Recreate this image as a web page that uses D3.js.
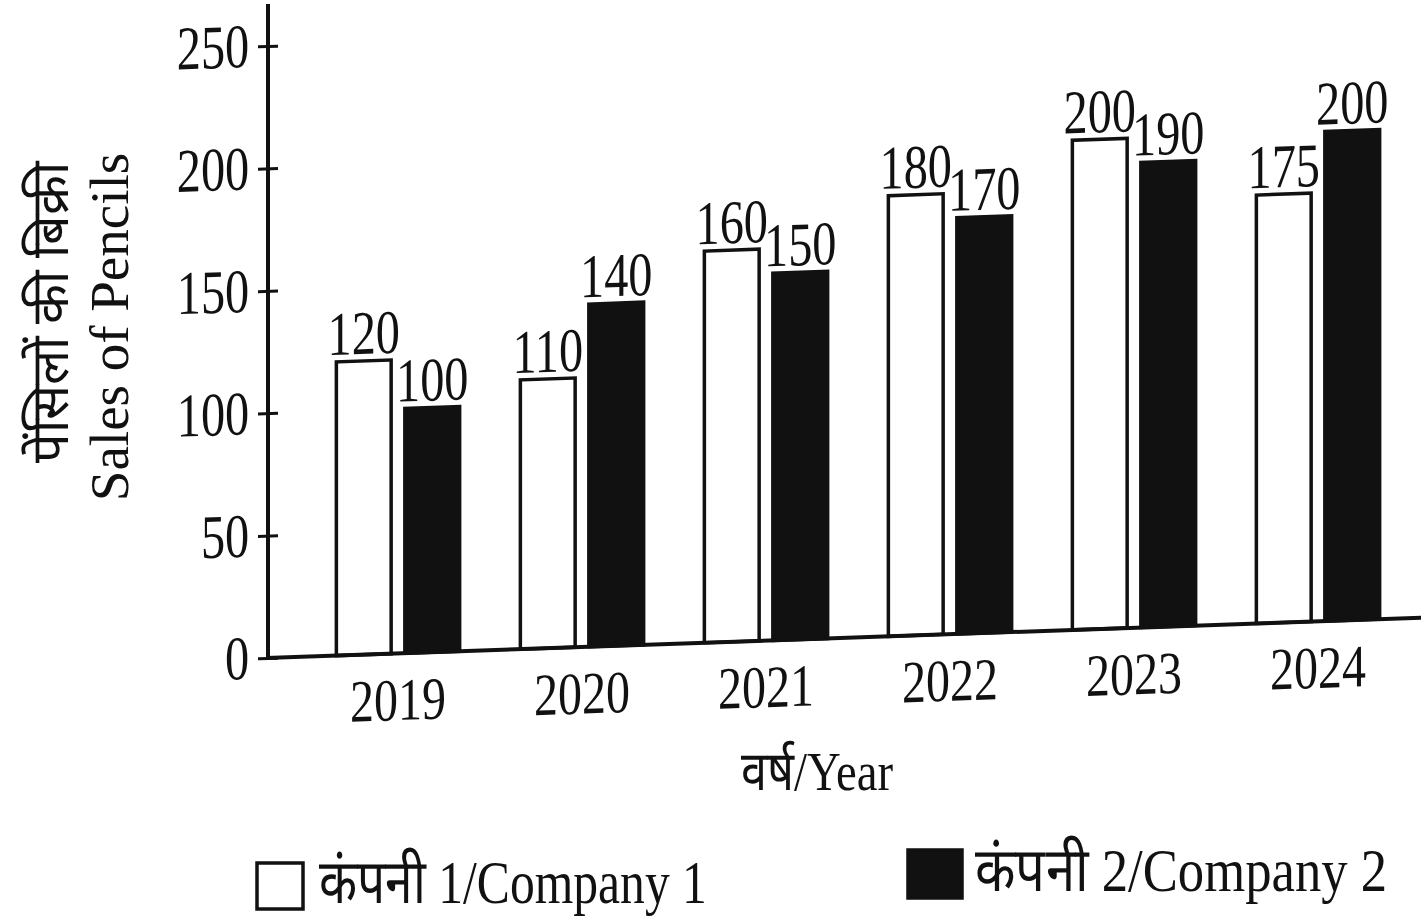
<!DOCTYPE html>
<html>
<head>
<meta charset="utf-8">
<script src="https://cdn.jsdelivr.net/npm/d3@7"></script>
<style>
  body { margin: 0; background: #fff; }
  svg text { font-family: "Liberation Serif", "Times New Roman", serif; fill: #111; }
</style>
</head>
<body>
<div id="chart"></div>
<script>
const years = ['2019', '2020', '2021', '2022', '2023', '2024'];
const company1 = [120, 110, 160, 180, 200, 175];
const company2 = [100, 140, 150, 170, 190, 200];
const yTicks = [0, 50, 100, 150, 200, 250];
const seriesNames = ['कंपनी 1/Company 1', 'कंपनी 2/Company 2'];
const seriesKeys = ['c1', 'c2'];
const seriesFill = ['#fff', '#111'];

const w = 1421;
const h = 923;
const axisX = 268;
const baseY = 658;

const rows = years.map((y, i) => ({year: y, c1: company1[i], c2: company2[i]}));

const svg = d3.select('#chart')
    .append('svg')
    .attr('width', w)
    .attr('height', h);

// the scanned chart leans a bit, so the plot is sheared around the y axis
const plot = svg.append('g')
    .attr('transform', `translate(${axisX},0) skewY(-2) translate(${-axisX},0)`);

const yScale = d3.scaleLinear()
    .domain([0, 250])
    .range([baseY, 46]);

const xScale = d3.scaleBand()
    .domain(years)
    .range([306, 1410])
    .paddingInner(0.33)
    .paddingOuter(0.165);

const inner = d3.scaleBand()
    .domain(seriesKeys)
    .range([0, xScale.bandwidth()])
    .paddingInner(0.2);

// y axis
const yAxis = d3.axisLeft(yScale).tickValues(yTicks).tickSize(10).tickPadding(10);
const yg = plot.append('g')
    .attr('transform', `translate(${axisX},0)`)
    .call(yAxis);
yg.select('.domain').remove();
yg.selectAll('.tick line').attr('x1', -10).attr('x2', 10).attr('stroke', '#111').attr('stroke-width', 3);
yg.selectAll('.tick text')
    .attr('font-size', 62)
    .attr('x', -24)
    .attr('transform', 'scale(0.78,1)');
plot.append('line')
    .attr('x1', axisX).attr('x2', axisX)
    .attr('y1', 4).attr('y2', baseY)
    .attr('stroke', '#111').attr('stroke-width', 4);

// x axis
const xAxis = d3.axisBottom(xScale).tickSize(0).tickPadding(24);
const xg = plot.append('g')
    .attr('transform', `translate(0,${baseY})`)
    .call(xAxis);
xg.select('.domain').remove();
xg.selectAll('.tick text')
    .attr('font-size', 60)
    .attr('transform', 'scale(0.8,1)')
    .attr('x', 0);

// bars
const groups = plot.selectAll('.year')
    .data(rows)
    .enter()
    .append('g')
    .attr('class', 'year')
    .attr('transform', d => `translate(${xScale(d.year)},0)`);

groups.selectAll('rect')
    .data(d => seriesKeys.map((k, i) => ({key: k, i: i, value: d[k]})))
    .enter()
    .append('rect')
    .attr('x', d => inner(d.key))
    .attr('y', d => yScale(d.value))
    .attr('width', inner.bandwidth())
    .attr('height', d => baseY - yScale(d.value))
    .attr('fill', d => seriesFill[d.i])
    .attr('stroke', '#111')
    .attr('stroke-width', 3.5);

groups.selectAll('.val')
    .data(d => seriesKeys.map((k, i) => ({key: k, i: i, value: d[k]})))
    .enter()
    .append('text')
    .attr('class', 'val')
    .attr('font-size', 62)
    .attr('text-anchor', 'middle')
    .attr('transform', d => `translate(${inner(d.key) + inner.bandwidth() / 2},${yScale(d.value) - 7}) scale(0.78,1)`)
    .text(d => d.value);

plot.append('line')
    .attr('x1', axisX - 2).attr('x2', w + 20)
    .attr('y1', baseY).attr('y2', baseY)
    .attr('stroke', '#111').attr('stroke-width', 4);

// axis titles
svg.append('text')
    .attr('font-size', 55)
    .attr('text-anchor', 'middle')
    .attr('transform', 'translate(817,790) scale(0.85,1)')
    .text('वर्ष/Year');

svg.append('text')
    .attr('font-size', 52)
    .attr('text-anchor', 'middle')
    .attr('transform', 'translate(68,312) rotate(-90)')
    .text('पेंसिलों की बिक्री');

svg.append('text')
    .attr('font-size', 55)
    .attr('text-anchor', 'middle')
    .attr('transform', 'translate(128,327) rotate(-90)')
    .text('Sales of Pencils');

// legend
const legendPos = [{x: 257, y: 863, ty: 903, sx: 0.8}, {x: 908, y: 850, ty: 891, sx: 0.85}];
const legend = svg.selectAll('.legendItem')
    .data(seriesNames)
    .enter()
    .append('g')
    .attr('class', 'legendItem');

legend.append('rect')
    .attr('x', (d, i) => legendPos[i].x)
    .attr('y', (d, i) => legendPos[i].y)
    .attr('width', (d, i) => i == 0 ? 46 : 54)
    .attr('height', (d, i) => i == 0 ? 46 : 48)
    .attr('fill', (d, i) => seriesFill[i])
    .attr('stroke', '#111')
    .attr('stroke-width', 3.5);

legend.append('text')
    .attr('font-size', 62)
    .attr('transform', (d, i) => `translate(${legendPos[i].x + (i == 0 ? 62 : 67)},${legendPos[i].ty}) scale(${legendPos[i].sx},1)`)
    .text(d => d);
</script>
</body>
</html>
